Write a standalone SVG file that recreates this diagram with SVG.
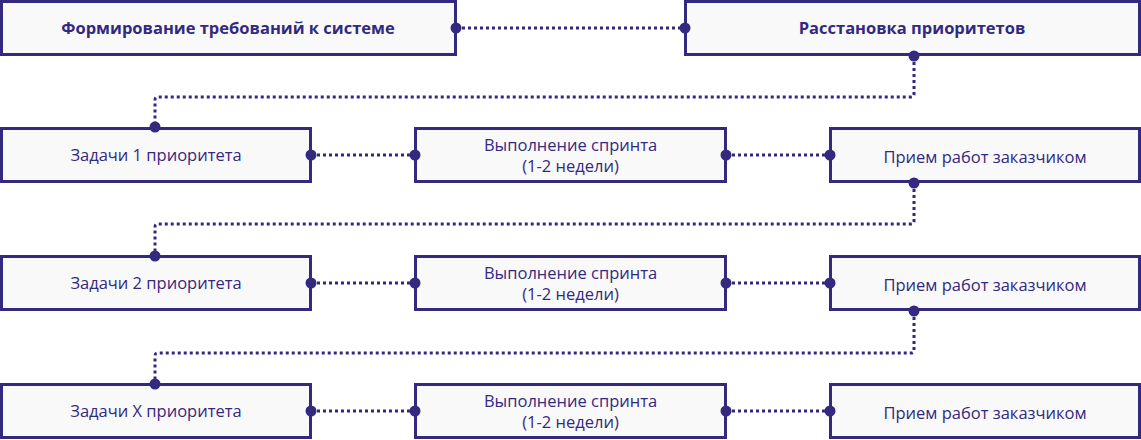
<svg xmlns="http://www.w3.org/2000/svg" width="1141" height="440" viewBox="0 0 1141 440">
<style>
.box{fill:#f9f9fa;stroke:#33297f;stroke-width:3}
.t{font-family:"Open Sans","Noto Sans",sans-serif;font-size:16.5px;fill:#33297f;text-anchor:middle}
.b{font-weight:bold}
.c{fill:none;stroke:#33297f;stroke-width:3;stroke-dasharray:3 3}
.d{fill:#33297f}
</style>
<rect width="1141" height="440" fill="#ffffff"/>
<g id="n1"><rect class="box" x="1.5" y="1.5" width="454" height="53"/><text class="t b" x="228" y="34">Формирование требований к системе</text></g>
<g id="n2"><rect class="box" x="685.5" y="1.5" width="454" height="53"/><text class="t b" x="912" y="34">Расстановка приоритетов</text></g>
<g id="r1a"><rect class="box" x="1.5" y="128.5" width="309" height="53"/><text class="t" x="156" y="161">Задачи 1 приоритета</text></g>
<g id="r1b"><rect class="box" x="415.5" y="128.5" width="310" height="53"/><text class="t" x="570.5" y="151">Выполнение спринта</text><text class="t" x="570.5" y="172">(1-2 недели)</text></g>
<g id="r1c"><rect class="box" x="830.5" y="128.5" width="309" height="53"/><text class="t" x="985" y="163">Прием работ заказчиком</text></g>
<g id="r2a"><rect class="box" x="1.5" y="256.5" width="309" height="53"/><text class="t" x="156" y="289">Задачи 2 приоритета</text></g>
<g id="r2b"><rect class="box" x="415.5" y="256.5" width="310" height="53"/><text class="t" x="570.5" y="279">Выполнение спринта</text><text class="t" x="570.5" y="300">(1-2 недели)</text></g>
<g id="r2c"><rect class="box" x="830.5" y="256.5" width="309" height="53"/><text class="t" x="985" y="291">Прием работ заказчиком</text></g>
<g id="r3a"><rect class="box" x="1.5" y="384.5" width="309" height="53"/><text class="t" x="156" y="417">Задачи X приоритета</text></g>
<g id="r3b"><rect class="box" x="415.5" y="384.5" width="310" height="53"/><text class="t" x="570.5" y="407">Выполнение спринта</text><text class="t" x="570.5" y="428">(1-2 недели)</text></g>
<g id="r3c"><rect class="box" x="830.5" y="384.5" width="309" height="53"/><text class="t" x="985" y="419">Прием работ заказчиком</text></g>
<g id="connectors">
<path class="c" d="M456 28H685"/>
<path class="c" d="M914 56V94Q914 97 911 97H158Q155 97 155 100V127"/>
<path class="c" d="M311 155H415"/>
<path class="c" d="M726 155H830"/>
<path class="c" d="M914 183V221Q914 224 911 224H158Q155 224 155 227V256"/>
<path class="c" d="M311 283H415"/>
<path class="c" d="M726 283H830"/>
<path class="c" d="M914 311V350Q914 353 911 353H158Q155 353 155 356V384"/>
<path class="c" d="M311 411H415"/>
<path class="c" d="M726 411H830"/>
<g class="d">
<circle cx="456" cy="28" r="5.5"/><circle cx="685" cy="28" r="5.5"/>
<circle cx="914" cy="56" r="5.5"/><circle cx="155" cy="127" r="5.5"/>
<circle cx="311" cy="155" r="5.5"/><circle cx="415" cy="155" r="5.5"/>
<circle cx="726" cy="155" r="5.5"/><circle cx="830" cy="155" r="5.5"/>
<circle cx="914" cy="183" r="5.5"/><circle cx="155" cy="256" r="5.5"/>
<circle cx="311" cy="283" r="5.5"/><circle cx="415" cy="283" r="5.5"/>
<circle cx="726" cy="283" r="5.5"/><circle cx="830" cy="283" r="5.5"/>
<circle cx="914" cy="311" r="5.5"/><circle cx="155" cy="384" r="5.5"/>
<circle cx="311" cy="411" r="5.5"/><circle cx="415" cy="411" r="5.5"/>
<circle cx="726" cy="411" r="5.5"/><circle cx="830" cy="411" r="5.5"/>
</g>
</g>
</svg>
